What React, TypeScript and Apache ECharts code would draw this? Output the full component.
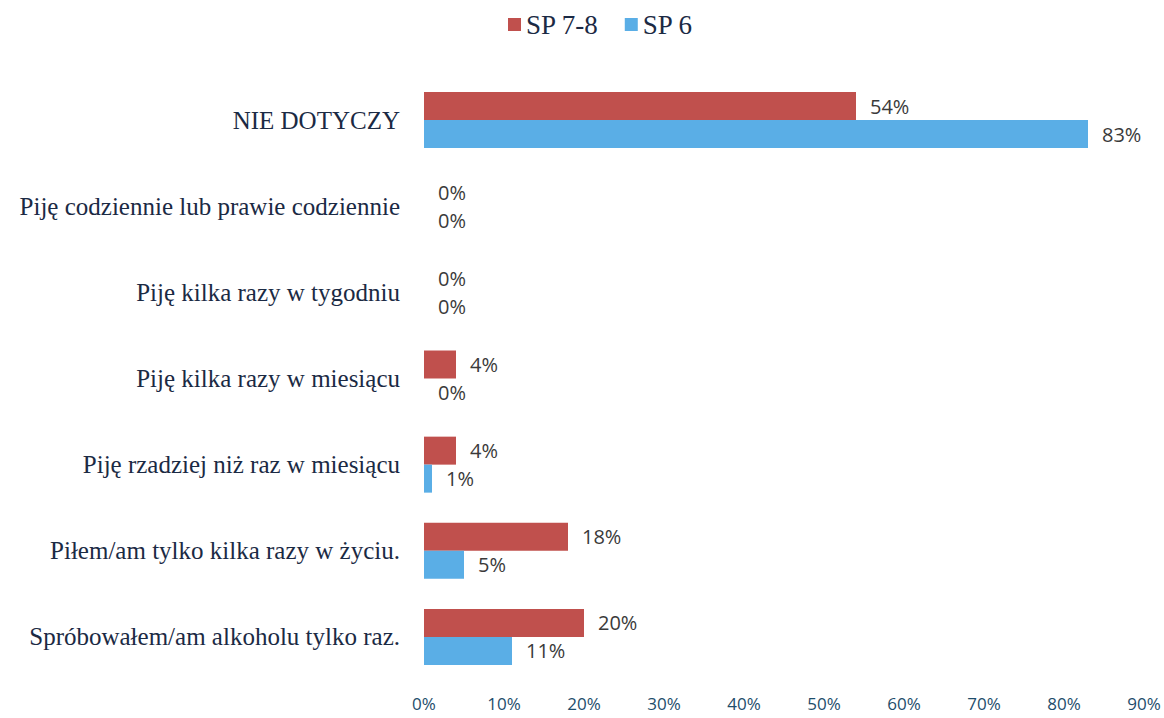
import React, { useEffect, useRef } from "react";
import * as echarts from "echarts";

const categories = [
  "NIE DOTYCZY",
  "Piję codziennie lub prawie codziennie",
  "Piję kilka razy w tygodniu",
  "Piję kilka razy w miesiącu",
  "Piję rzadziej niż raz w miesiącu",
  "Piłem/am tylko kilka razy w życiu.",
  "Spróbowałem/am alkoholu tylko raz.",
];
const sp78 = [54, 0, 0, 4, 4, 18, 20];
const sp6 = [83, 0, 0, 0, 1, 5, 11];
const seriesNames = ["SP 7-8", "SP 6"];

export default function App() {
  const ref = useRef<HTMLDivElement>(null);
  useEffect(() => {
    const chart = echarts.init(ref.current!, undefined, { renderer: "svg" });
    const labelCfg = {
      show: true,
      position: "right",
      distance: 14,
      formatter: "{c}%",
      fontFamily: "Open Sans, sans-serif",
      fontSize: 20,
      color: "#3a3a3a",
    };
    chart.setOption({
      animation: false,
      backgroundColor: "#ffffff",
      legend: {
        top: 6,
        left: 503,
        itemWidth: 13,
        itemHeight: 13,
        itemGap: 26,
        icon: "rect",
        textStyle: {
          fontFamily: "Liberation Serif, serif",
          fontSize: 27,
          color: "#1b2a44",
        },
        data: seriesNames,
      },
      grid: { left: 424, right: 20, top: 77, bottom: 38, containLabel: false },
      xAxis: {
        type: "value",
        min: 0,
        max: 90,
        interval: 10,
        splitLine: { show: false },
        axisLine: { show: false },
        axisTick: { show: false },
        axisLabel: {
          formatter: "{value}%",
          fontFamily: "Open Sans, sans-serif",
          fontSize: 17,
          color: "#1e4d6b",
          margin: 15,
        },
      },
      yAxis: {
        type: "category",
        inverse: true,
        data: categories,
        axisLine: { show: false },
        axisTick: { show: false },
        axisLabel: {
          fontFamily: "Liberation Serif, serif",
          fontSize: 25,
          color: "#1b2a44",
          margin: 24,
        },
      },
      series: [
        {
          name: seriesNames[0],
          type: "bar",
          data: sp78,
          barGap: "0%",
          barCategoryGap: "35%",
          itemStyle: { color: "#c0504d" },
          label: labelCfg,
        },
        {
          name: seriesNames[1],
          type: "bar",
          data: sp6,
          barGap: "0%",
          barCategoryGap: "35%",
          itemStyle: { color: "#5aaee6" },
          label: labelCfg,
        },
      ],
    });
    return () => chart.dispose();
  }, []);
  return (
    <div
      ref={ref}
      style={{ position: "fixed", left: 0, top: 0, width: 1164, height: 718 }}
    />
  );
}
